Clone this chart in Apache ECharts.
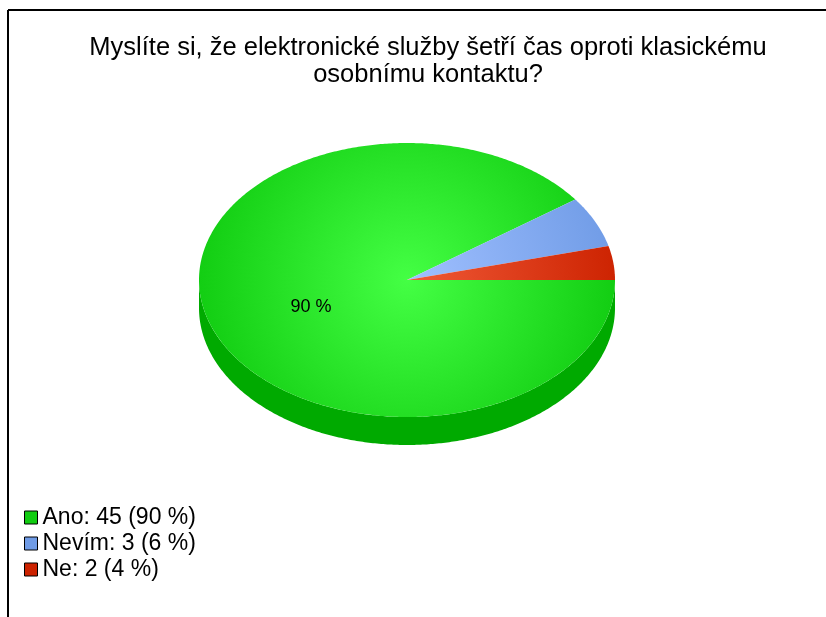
<!DOCTYPE html>
<html>
<head>
<meta charset="utf-8">
<script src="https://cdn.jsdelivr.net/npm/echarts@6/dist/echarts.min.js"></script>
<style>
  html, body { margin: 0; padding: 0; background: #fff; }
  #chart { width: 826px; height: 617px; }
</style>
</head>
<body>
<div id="chart"></div>
<script>
const title = 'Myslíte si, že elektronické služby šetří čas oproti klasickému\nosobnímu kontaktu?'
const labels = ['Ano', 'Nevím', 'Ne']
const values = [45, 3, 2]
const colors = ['#11cc11', '#6f9be6', '#cc2200']
const innerColors = ['#44ff44', '#a0c0ff', '#f05a38']
const sideColors = ['#00aa00', '#4d77bb', '#991a00']

const total = values.reduce((a, b) => a + b, 0)
const pct = v => Math.round(v / total * 100)

// ellipse geometry (pixels)
const cx = 407, cy = 280, rx = 208, ry = 137, depth = 28

const chart = echarts.init(document.getElementById('chart'))

const pt = (a, dy) => [cx + rx * Math.cos(a), cy + ry * Math.sin(a) + (dy || 0)]

const arcPoints = (a0, a1, dy) => {
  const pts = []
  const n = Math.max(2, Math.ceil((a1 - a0) / 0.01))
  for (let k = 0; k <= n; k++) pts.push(pt(a0 + (a1 - a0) * k / n, dy))
  return pts
}

const sliceAngles = i => {
  let start = 0
  for (let j = 0; j < i; j++) start += values[j]
  return [start / total * Math.PI * 2, (start + values[i]) / total * Math.PI * 2]
}

const makeSeries = (i, part) => ({
  type: 'custom',
  name: labels[i],
  coordinateSystem: 'none',
  silent: true,
  z: part === 'side' ? 1 : 2,
  itemStyle: { color: colors[i] },
  data: [[values[i]]],
  renderItem: () => {
    const [a0, a1] = sliceAngles(i)
    if (part === 'side') {
      // visible front wall = lower half of the ellipse (0..PI)
      const s = Math.max(a0, 0), e = Math.min(a1, Math.PI)
      if (e <= s) return null
      const top = arcPoints(s, e, 0)
      const bottom = arcPoints(s, e, depth).reverse()
      return {
        type: 'polygon',
        shape: { points: top.concat(bottom) },
        style: { fill: sideColors[i] }
      }
    }
    const pts = [[cx, cy]].concat(arcPoints(a0, a1, 0))
    const children = [{
      type: 'polygon',
      shape: { points: pts },
      style: {
        fill: {
          type: 'radial', x: cx, y: cy, r: 215, global: true,
          colorStops: [{ offset: 0, color: innerColors[i] }, { offset: 1, color: colors[i] }]
        }
      }
    }]
    if (pct(values[i]) >= 10) {
      const mid = (a0 + a1) / 2
      children.push({
        type: 'text',
        style: {
          x: cx + rx * 0.5 * Math.cos(mid) + 3, y: cy + ry * 0.5 * Math.sin(mid) + 6,
          text: pct(values[i]) + ' %', fill: '#000',
          font: '18px "Liberation Sans", Arial, sans-serif',
          align: 'center', verticalAlign: 'middle'
        }
      })
    }
    return { type: 'group', children }
  }
})

const series = []
labels.forEach((_, i) => series.push(makeSeries(i, 'side')))
labels.forEach((_, i) => series.push(makeSeries(i, 'top')))

chart.setOption({
  animation: false,
  title: {
    text: title,
    left: 423, textAlign: 'center', top: 29,
    textStyle: { fontFamily: 'Liberation Sans', fontSize: 25.5, fontWeight: 'normal', color: '#000', lineHeight: 27 }
  },
  legend: {
    data: labels,
    orient: 'vertical',
    left: 19, top: 501,
    itemWidth: 13, itemHeight: 13, itemGap: 3,
    icon: 'rect',
    itemStyle: { borderColor: '#000', borderWidth: 1 },
    selectedMode: false,
    formatter: name => {
      const v = values[labels.indexOf(name)]
      return name + ': ' + v + ' (' + pct(v) + ' %)'
    },
    textStyle: { fontFamily: 'Liberation Sans', fontSize: 23, lineHeight: 23, color: '#000' }
  },
  graphic: [
    { type: 'line', shape: { x1: 8, y1: 10, x2: 826, y2: 10 }, style: { stroke: '#000', lineWidth: 2 } },
    { type: 'line', shape: { x1: 8, y1: 10, x2: 8, y2: 617 }, style: { stroke: '#000', lineWidth: 2 } }
  ],
  series
})
</script>
</body>
</html>
